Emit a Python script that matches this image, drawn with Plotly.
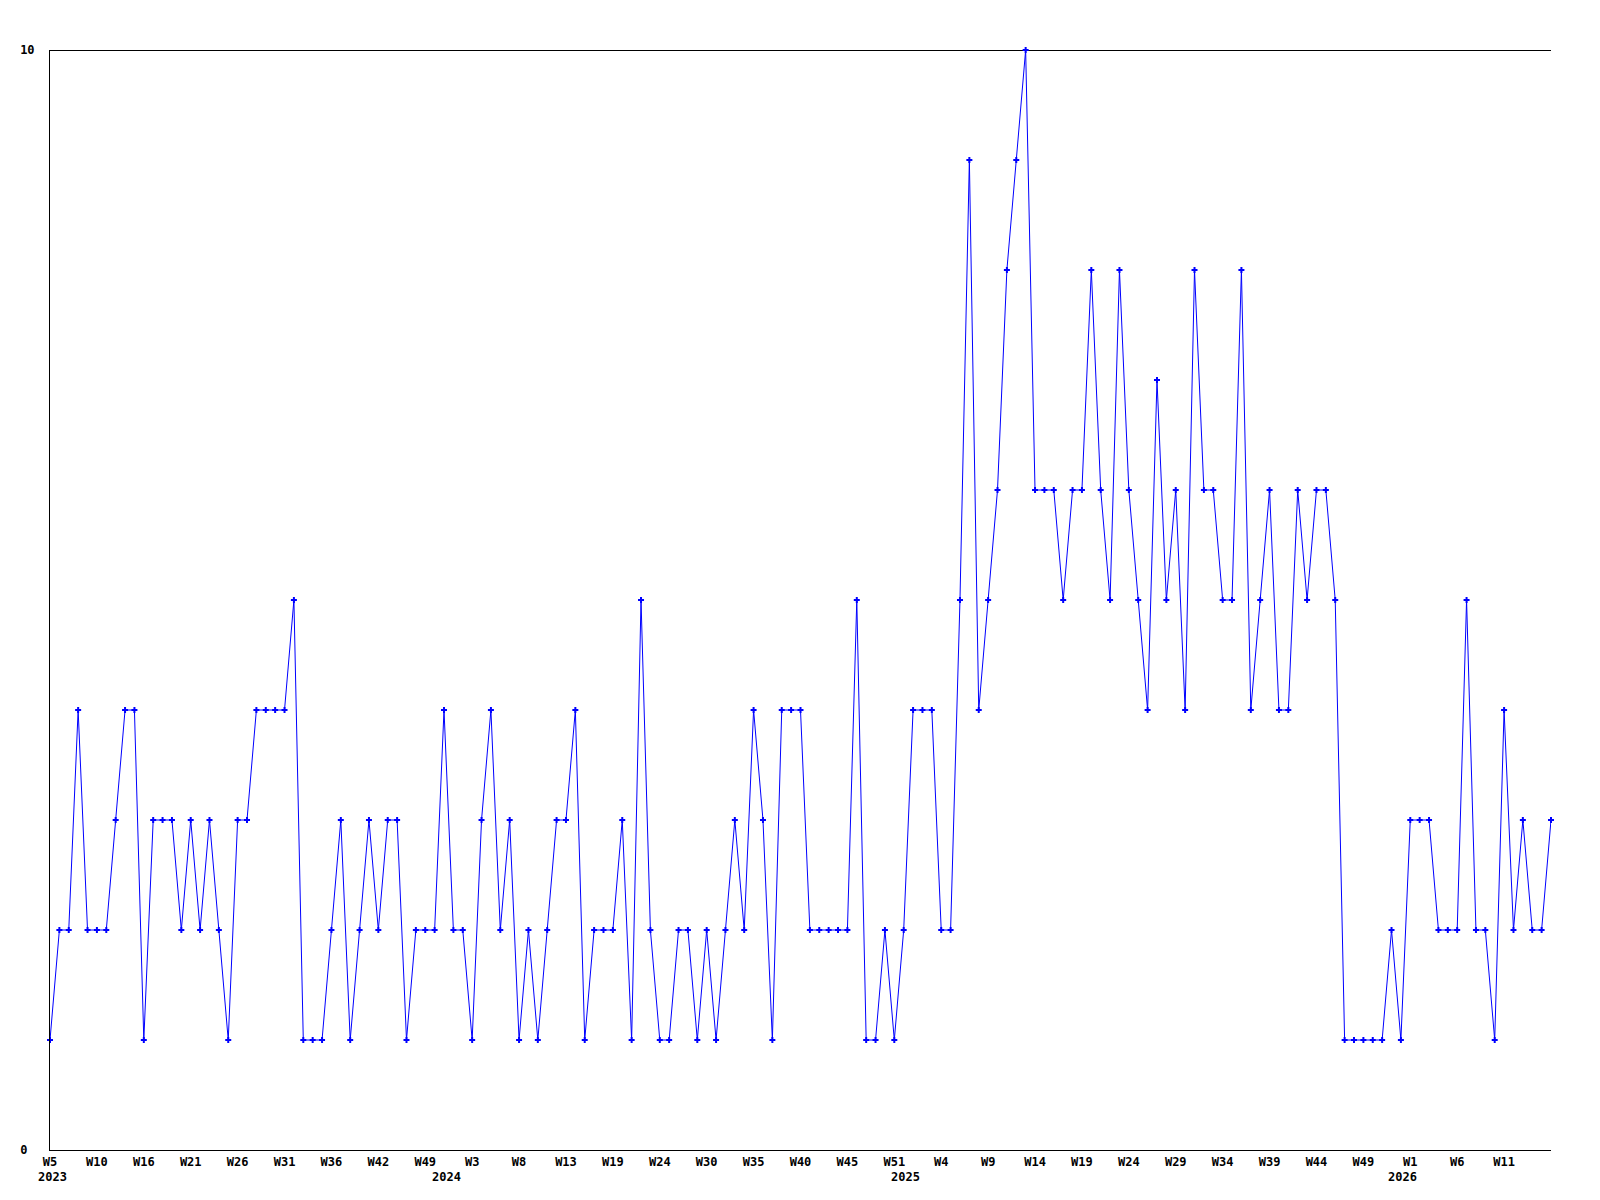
import plotly.graph_objects as go

# Weekly values (one per week point, in order)
values = [
    1, 2, 2, 4, 2, 2, 2, 3, 4, 4,
    1, 3, 3, 3, 2, 3, 2, 3, 2, 1,
    3, 3, 4, 4, 4, 4, 5, 1, 1, 1,
    2, 3, 1, 2, 3, 2, 3, 3, 1, 2,
    2, 2, 4, 2, 2, 1, 3, 4, 2, 3,
    1, 2, 1, 2, 3, 3, 4, 1, 2, 2,
    2, 3, 1, 5, 2, 1, 1, 2, 2, 1,
    2, 1, 2, 3, 2, 4, 3, 1, 4, 4,
    4, 2, 2, 2, 2, 2, 5, 1, 1, 2,
    1, 2, 4, 4, 4, 2, 2, 5, 9, 4,
    5, 6, 8, 9, 10, 6, 6, 6, 5, 6,
    6, 8, 6, 5, 8, 6, 5, 4, 7, 5,
    6, 4, 8, 6, 6, 5, 5, 8, 4, 5,
    6, 4, 4, 6, 5, 6, 6, 5, 1, 1,
    1, 1, 1, 2, 1, 3, 3, 3, 2, 2,
    2, 5, 2, 2, 1, 4, 2, 3, 2, 2,
    3,
]

# Week labels shown on every 5th point
week_labels = [
    "W5", "W10", "W16", "W21", "W26", "W31", "W36", "W42", "W49",
    "W3", "W8", "W13", "W19", "W24", "W30", "W35", "W40", "W45", "W51",
    "W4", "W9", "W14", "W19", "W24", "W29", "W34", "W39", "W44", "W49",
    "W1", "W6", "W11",
]
label_step = 5

# Year labels and the point index where each year starts
year_names = ["2023", "2024", "2025", "2026"]
year_start_index = [0, 42, 91, 144]

y_tick_vals = [0, 10]
y_tick_text = ["0\u00a0", "10"]

x_idx = list(range(len(values)))
tick_vals = [i * label_step for i in range(len(week_labels))]

FONT = dict(family="DejaVu Sans Mono", size=12, color="black", weight="bold")
BLUE = "#0000FF"

fig = go.Figure()
fig.add_trace(go.Scatter(
    x=x_idx, y=values, mode="lines+markers",
    line=dict(color=BLUE, width=1),
    marker=dict(symbol="cross", size=5, color=BLUE, line=dict(width=0)),
    hoverinfo="x+y", showlegend=False, cliponaxis=False,
))

for name, idx in zip(year_names, year_start_index):
    fig.add_annotation(
        x=idx, y=0, xref="x", yref="paper", text=name, showarrow=False,
        xanchor="center", yanchor="middle", xshift=2, yshift=-27, font=FONT,
    )

# top border line at the maximum of the value axis (crisp, pixel-aligned)
fig.add_shape(type="line", xref="paper", yref="y", x0=0, x1=1,
              ysizemode="pixel", yanchor=y_tick_vals[-1], y0=-0.5, y1=-0.5,
              line=dict(color="black", width=1), layer="below")

fig.update_layout(
    width=1600, height=1200,
    margin=dict(l=42, r=57, t=42, b=58),
    paper_bgcolor="white", plot_bgcolor="white",
    font=FONT,
)
fig.update_xaxes(
    range=[0, len(values) - 1], tickmode="array", tickvals=tick_vals,
    ticktext=week_labels, ticks="", showgrid=False, zeroline=False,
    showline=True, linecolor="black", linewidth=1, tickfont=FONT,
    ticklabelstandoff=1,
)
fig.update_yaxes(
    range=[0, 10], tickmode="array", tickvals=y_tick_vals, ticktext=y_tick_text,
    ticks="", showgrid=False, zeroline=False,
    showline=True, linecolor="black", linewidth=1, tickfont=FONT,
    ticklabelstandoff=12,
)

fig.write_html("out.html")
